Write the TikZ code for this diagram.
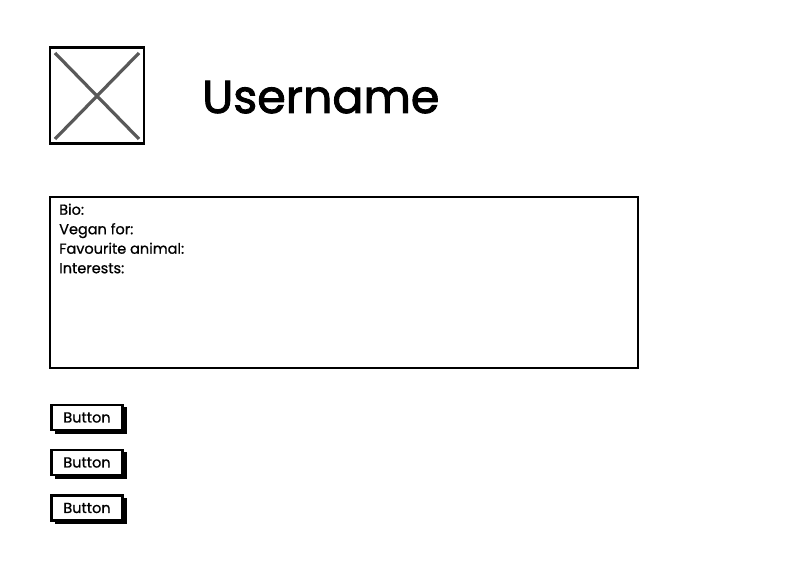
\documentclass[tikz,border=0pt]{standalone}
\usepackage{fontspec}
\setmainfont{Poppins}
\newfontfamily\titlefont{Poppins}[FakeBold=2]
\newfontfamily\bodyfont{Poppins}[FakeBold=0.8]
\begin{document}
\begin{tikzpicture}[x=1pt,y=-1pt,
  frame/.style={draw=black,line width=2.8pt},
  btn/.style={draw=black,fill=white,line width=2.2pt,minimum width=71pt,minimum height=25pt,inner sep=0pt,font=\bodyfont\fontsize{14.5}{16}\selectfont},
  btnshadow/.style={fill=black}]
\useasboundingbox[fill=white] (0,0) rectangle (810,567);
% image placeholder
\node[frame,minimum width=94pt,minimum height=96pt,inner sep=0pt] (img) at (97,95.5) {};
\coordinate (tl) at (55,53);
\coordinate (br) at (139,139);
\coordinate (tr) at (139,53);
\coordinate (bl) at (55,139);
\draw[color=black!65,line width=3.2pt] (tl) -- (br);
\draw[color=black!65,line width=3.2pt] (tr) -- (bl);
% title
\node[anchor=base west,inner sep=0pt,font=\titlefont\fontsize{46}{50}\selectfont] (title) at (202,113) {Username};
% info box
\node[frame,minimum width=588pt,minimum height=171pt,inner sep=0pt] (info) at (344,282.5) {};
\node[anchor=north west,align=left,inner sep=0pt,font=\bodyfont\fontsize{14.5}{19.5}\selectfont] (infotext) at (59,203.5)
  {Bio:\\Vegan for:\\Favourite animal:\\Interests:};
% buttons
\foreach \n/\y in {b1/417.5, b2/462.5, b3/508} {
  \fill[btnshadow] (55,\y-10.5) rectangle (127,\y+16);
  \node[btn] (\n) at (87,\y) {Button};
}
\end{tikzpicture}
\end{document}
